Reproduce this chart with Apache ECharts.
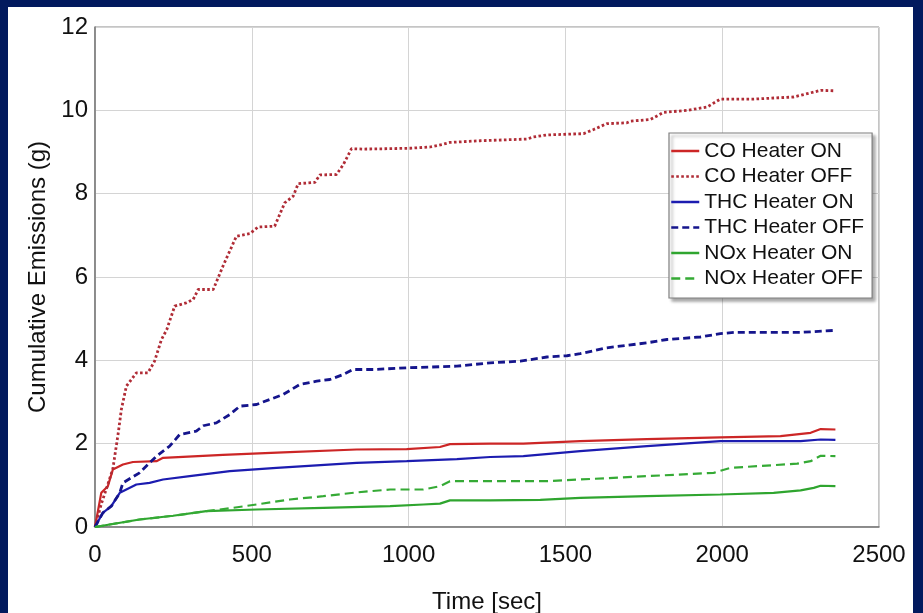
<!DOCTYPE html>
<html>
<head>
<meta charset="utf-8">
<script src="https://cdn.jsdelivr.net/npm/echarts@6/dist/echarts.min.js"></script>
<style>
html,body{margin:0;padding:0;background:#021a5e;}
#c{width:923px;height:613px;}
</style>
</head>
<body>
<div id="c"></div>
<script>
var seriesNames = ['CO Heater ON','CO Heater OFF','THC Heater ON','THC Heater OFF','NOx Heater ON','NOx Heater OFF'];
var xTicks = [0,500,1000,1500,2000,2500];
var yTicks = [0,2,4,6,8,10,12];

var coOnT  = [0,20,41,57,89,121,196,217,408,600,834,994,1100,1132,1260,1366,1547,1760,1994,2186,2282,2314,2361];
var coOnV  = [0,0.82,0.98,1.38,1.5,1.56,1.58,1.66,1.73,1.79,1.86,1.87,1.92,1.99,2.0,2.0,2.06,2.11,2.15,2.18,2.26,2.35,2.34];

var coOffT = [0,20,40,57,75,84,100,132,169,190,212,229,254,291,313,329,377,408,451,494,520,573,605,632,648,701,717,770,792,818,855,941,1004,1068,1106,1132,1228,1377,1398,1441,1558,1590,1632,1696,1707,1771,1813,1888,1952,1994,2100,2228,2314,2356];
var coOffV = [0,0.55,1.0,1.4,2.3,2.82,3.38,3.7,3.7,3.98,4.5,4.74,5.3,5.38,5.46,5.7,5.7,6.26,6.98,7.04,7.2,7.22,7.78,7.94,8.24,8.27,8.45,8.46,8.7,9.08,9.07,9.08,9.09,9.12,9.18,9.23,9.27,9.31,9.36,9.41,9.44,9.54,9.68,9.7,9.74,9.78,9.95,10.0,10.08,10.27,10.27,10.32,10.48,10.47];

var thcOnT = [0,25,52,79,100,132,174,217,302,430,579,834,994,1154,1260,1366,1547,1760,1994,2250,2314,2361];
var thcOnV = [0,0.34,0.5,0.82,0.9,1.02,1.06,1.14,1.22,1.34,1.42,1.54,1.58,1.63,1.68,1.7,1.82,1.94,2.06,2.06,2.1,2.09];

var thcOffT = [0,25,52,79,89,142,196,238,270,323,345,387,430,462,515,557,600,653,707,749,792,823,889,994,1154,1260,1356,1441,1505,1547,1632,1760,1824,1930,1994,2037,2250,2361];
var thcOffV = [0,0.34,0.5,0.82,1.06,1.3,1.7,1.94,2.22,2.3,2.43,2.5,2.7,2.9,2.94,3.06,3.18,3.42,3.5,3.54,3.66,3.78,3.78,3.82,3.86,3.94,3.98,4.08,4.11,4.16,4.3,4.42,4.5,4.56,4.64,4.67,4.67,4.72];

var noxOnT = [0,47,142,249,355,515,728,941,1047,1100,1132,1260,1420,1547,1760,1994,2164,2250,2292,2314,2361];
var noxOnV = [0,0.06,0.18,0.27,0.38,0.42,0.46,0.5,0.54,0.56,0.64,0.64,0.65,0.7,0.74,0.78,0.82,0.88,0.94,0.99,0.98];

var noxOffT = [0,47,142,249,355,440,515,621,728,834,941,1047,1100,1132,1260,1441,1760,1973,2026,2239,2282,2314,2361];
var noxOffV = [0,0.06,0.18,0.27,0.38,0.46,0.54,0.66,0.74,0.83,0.9,0.9,0.98,1.1,1.1,1.1,1.22,1.3,1.42,1.52,1.58,1.71,1.7];

function pairs(t, v){ return t.map(function(x,i){ return [x, v[i]]; }); }

var FONT = 'Liberation Sans, Arial, sans-serif';
var styles = [
  {color:'#cc2626', width:2.2, type:'solid'},
  {color:'#b02c36', width:2.8, type:[2.6,2.4]},
  {color:'#1c1cb0', width:2.2, type:'solid'},
  {color:'#15158c', width:2.8, type:[7,4]},
  {color:'#2fa52f', width:2.2, type:'solid'},
  {color:'#35aa35', width:2.2, type:[9,5]}
];
var dataSets = [pairs(coOnT,coOnV), pairs(coOffT,coOffV), pairs(thcOnT,thcOnV), pairs(thcOffT,thcOffV), pairs(noxOnT,noxOnV), pairs(noxOffT,noxOffV)];

var series = seriesNames.map(function(n,i){
  return {
    name:n, type:'line', data:dataSets[i], showSymbol:false, symbol:'none',
    itemStyle:{color:styles[i].color},
    lineStyle:{color:styles[i].color, width:styles[i].width, type:styles[i].type},
    animation:false, z:2+i
  };
});

var chart = echarts.init(document.getElementById('c'), null, {renderer:'canvas'});
chart.setOption({
  backgroundColor:'#021a5e',
  animation:false,
  graphic:[{type:'rect', shape:{x:8, y:7, width:905, height:606}, style:{fill:'#ffffff'}, z:-10, silent:true}],
  grid:{left:95, right:44, top:27, bottom:86, show:true, borderColor:'#8a8a8a', borderWidth:1, backgroundColor:'transparent', containLabel:false, outerBoundsMode:'none'},
  xAxis:{
    type:'value', min:xTicks[0], max:xTicks[xTicks.length-1], interval:500,
    name:'Time [sec]', nameLocation:'middle', nameGap:63,
    nameTextStyle:{fontFamily:FONT, fontSize:24, color:'#111'},
    axisLine:{show:true, lineStyle:{color:'#777', width:1.5}},
    axisTick:{show:false},
    axisLabel:{fontFamily:FONT, fontSize:24, color:'#111', margin:16, formatter:function(v){return String(v);}},
    splitLine:{show:true, lineStyle:{color:'#d4d4d4', width:1}}
  },
  yAxis:{
    type:'value', min:yTicks[0], max:yTicks[yTicks.length-1], interval:2,
    name:'Cumulative Emissions (g)', nameLocation:'middle', nameGap:41,
    nameTextStyle:{fontFamily:FONT, fontSize:24, color:'#111'},
    axisLine:{show:true, lineStyle:{color:'#777', width:1.5}},
    axisTick:{show:false},
    axisLabel:{fontFamily:FONT, fontSize:24, color:'#111', margin:7, formatter:function(v){return String(v);}},
    splitLine:{show:true, lineStyle:{color:'#d4d4d4', width:1}}
  },
  legend:{
    show:true,
    data:seriesNames, orient:'vertical', left:669, top:133,
    padding:[7.5,8,9,1], itemGap:4.5, itemWidth:28, itemHeight:14,
    itemStyle:{opacity:0},
    lineStyle:{width:2.5},
    textStyle:{fontFamily:FONT, fontSize:21, color:'#111'},
    backgroundColor:'#ffffff', borderColor:'#7f7f7f', borderWidth:1.2,
    shadowColor:'rgba(0,0,0,0.35)', shadowBlur:3, shadowOffsetX:3, shadowOffsetY:3,
    selectedMode:false
  },
  series:series
});
</script>
</body>
</html>
